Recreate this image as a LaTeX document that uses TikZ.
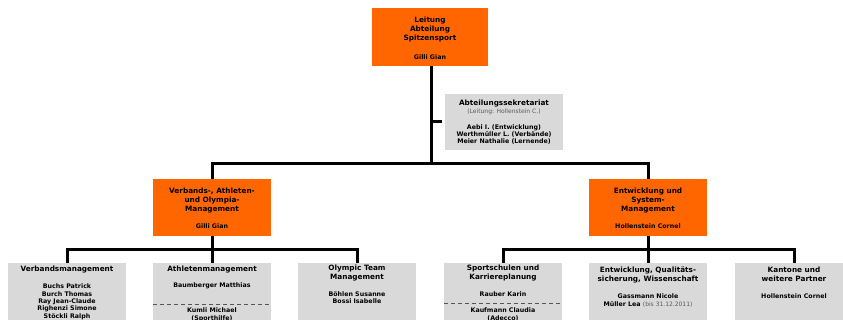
\documentclass[tikz,border=0pt]{standalone}
\usepackage{fontspec}
\setmainfont{DejaVu Sans}
\definecolor{orng}{HTML}{FF6600}
\definecolor{gbox}{HTML}{D9D9D9}
\definecolor{gtext}{HTML}{5A5A5A}
\definecolor{dashc}{HTML}{555555}
\newcommand{\hdf}{\fontsize{7.3}{9}\selectfont\bfseries}
\newcommand{\nmf}{\fontsize{6.3}{7.3}\selectfont\bfseries}
\newcommand{\smf}{\fontsize{6}{7.3}\selectfont\mdseries\color{gtext}}
\tikzset{
  orangebox/.style={fill=orng, minimum width=118, minimum height=57, inner sep=0},
  sekbox/.style={fill=gbox, minimum width=118, minimum height=56, inner sep=0, align=center, font=\hdf},
  graybox/.style={fill=gbox, minimum width=118, minimum height=70, inner sep=0, anchor=north},
  headtxt/.style={font=\hdf, align=center, inner sep=0, anchor=north},
  nametxt/.style={font=\nmf, align=center, inner sep=0, anchor=north},
  conn/.style={line width=3, draw=black},
  dashline/.style={draw=dashc, line width=0.9, dash pattern=on 4 off 3}
}
\begin{document}
\begin{tikzpicture}[x=1pt,y=-1pt]
\useasboundingbox (0,0) rectangle (843,320);
\clip (0,0) rectangle (843,320);
% top
\node[orangebox, minimum width=116, minimum height=58] (top) at (430,37) {};
\node[headtxt] (toph) at ([yshift=-9]top.north) {Leitung\\Abteilung\\Spitzensport};
\node[nametxt] (topn) at ([yshift=-46.5]top.north) {Gilli Gian};
\node[sekbox] (sek) at (504,122)
  {Abteilungssekretariat\\[-1.5pt]{\smf (Leitung: Hollenstein C.)}\\[7pt]
   {\nmf Aebi I. (Entwicklung)}\\[-2pt]{\nmf Werthmüller L. (Verbände)}\\[-2pt]{\nmf Meier Nathalie (Lernende)}};
\node[orangebox] (verb) at (212,207.5) {};
\node[headtxt] (verbh) at ([yshift=-8.5]verb.north) {Verbands-, Athleten-\\und Olympia-\\Management};
\node[nametxt] (verbn) at ([yshift=-44.7]verb.north) {Gilli Gian};
\node[orangebox] (entw) at (648,207.5) {};
\node[headtxt] (entwh) at ([yshift=-8.5]entw.north) {Entwicklung und\\System-\\Management};
\node[nametxt] (entwn) at ([yshift=-45.2]entw.north) {Hollenstein Cornel};
% bottom boxes
\node[graybox] (vm) at (67,263) {};
\node[graybox] (am) at (212,263) {};
\node[graybox] (om) at (357,263) {};
\node[graybox] (sk) at (503,263) {};
\node[graybox] (eq) at (648,263) {};
\node[graybox] (ka) at (794,263) {};
% texts
\node[headtxt] (vmh) at ([yshift=-3]vm.north) {Verbandsmanagement};
\node[nametxt] (vmn) at ([yshift=-21]vm.north) {Buchs Patrick\\Burch Thomas\\Ray Jean-Claude\\Righenzi Simone\\Stöckli Ralph};
\node[headtxt] (amh) at ([yshift=-3]am.north) {Athletenmanagement};
\node[nametxt] (amn) at ([yshift=-20]am.north) {Baumberger Matthias};
\node[nametxt] (amk) at ([yshift=-45]am.north) {Kumli Michael\\(Sporthilfe)};
\node[headtxt] (omh) at ([yshift=-2]om.north) {Olympic Team\\Management};
\node[nametxt] (omn) at ([yshift=-28]om.north) {Böhlen Susanne\\Bossi Isabelle};
\node[headtxt] (skh) at ([yshift=-2]sk.north) {Sportschulen und\\Karriereplanung};
\node[nametxt] (skn) at ([yshift=-29]sk.north) {Rauber Karin};
\node[nametxt] (skk) at ([yshift=-45]sk.north) {Kaufmann Claudia\\(Adecco)};
\node[headtxt] (eqh) at ([yshift=-4]eq.north) {Entwicklung, Qualitäts-\\sicherung, Wissenschaft};
\node[nametxt] (eqn) at ([yshift=-31]eq.north) {Gassmann Nicole\\Müller Lea {\smf (bis 31.12.2011)}};
\node[headtxt] (kah) at ([yshift=-4]ka.north) {Kantone und\\weitere Partner};
\node[nametxt] (kan) at ([yshift=-31]ka.north) {Hollenstein Cornel};
% dashed separators
\draw[dashline] ([yshift=-41]am.north west) -- ([yshift=-41]am.north east);
\draw[dashline] ([yshift=-40]sk.north west) -- ([yshift=-40]sk.north east);
% connectors
\coordinate (hub) at (431,164);
\coordinate (hl) at (212,250);
\coordinate (hr) at (648,250);
\draw[conn] (top.south -| hub) -- (hub);
\draw[conn] (top.south -| hub) |- ([xshift=-3]sek.west);
\draw[conn] (verb.north) |- (hub) -| (entw.north);
\draw[conn] (vm.north) |- (hl) -| (om.north);
\draw[conn] (verb.south) -- (am.north);
\draw[conn] (sk.north) |- (hr) -| (ka.north);
\draw[conn] (entw.south) -- (eq.north);
\end{tikzpicture}
\end{document}
